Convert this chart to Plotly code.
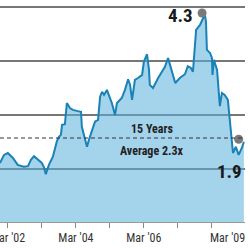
import plotly.graph_objects as go

# Price/book-style ratio, monthly-ish readings
dates = [
    "2001-12-07", "2002-01-19", "2002-03-01", "2002-04-25", "2002-06-15", "2002-08-19",
    "2002-10-04", "2002-11-04", "2002-12-07", "2003-01-19", "2003-03-01", "2003-03-22",
    "2003-04-13", "2003-05-16", "2003-06-28", "2003-08-10", "2003-09-01", "2003-09-22",
    "2003-10-04", "2003-11-04", "2003-11-25", "2003-12-28", "2004-01-28", "2004-03-22",
    "2004-04-25", "2004-05-04", "2004-06-07", "2004-06-28", "2004-07-19", "2004-08-22",
    "2004-09-22", "2004-10-25", "2004-11-16", "2004-12-07", "2004-12-28", "2005-01-28",
    "2005-02-22", "2005-03-22", "2005-04-25", "2005-05-16", "2005-07-07", "2005-08-10",
    "2005-09-13", "2005-10-04", "2005-10-25", "2005-11-25", "2005-12-28", "2006-02-10",
    "2006-03-01", "2006-04-04", "2006-04-25", "2006-05-04", "2006-06-07", "2006-08-01",
    "2006-10-13", "2006-11-16", "2006-12-07", "2007-02-01", "2007-03-22", "2007-05-16",
    "2007-06-16", "2007-07-19", "2007-08-10", "2007-09-01", "2007-09-13", "2007-10-25",
    "2007-11-25", "2007-12-16", "2007-12-28", "2008-01-07", "2008-02-10", "2008-03-01",
    "2008-03-07", "2008-03-22", "2008-04-25", "2008-05-04", "2008-05-25", "2008-06-16",
    "2008-07-16", "2008-08-19", "2008-09-10", "2008-10-01", "2008-10-13", "2008-11-13",
    "2008-12-13", "2009-01-16", "2009-02-07",
]
values = [
    1.90, 2.03, 2.06, 1.98, 1.87, 1.84,
    1.85, 1.95, 2.01, 1.96, 1.90, 1.84,
    1.72, 1.87, 2.00, 2.25, 2.32, 2.35,
    2.51, 2.52, 2.86, 2.78, 2.75, 2.73,
    2.72, 2.48, 2.27, 2.16, 2.27, 2.43,
    2.56, 2.59, 2.96, 3.04, 2.99, 3.07,
    2.96, 2.86, 2.67, 2.86, 2.94, 3.07,
    3.24, 3.15, 2.91, 3.23, 3.26, 3.31,
    3.52, 3.64, 3.39, 3.15, 3.10, 3.26,
    3.44, 3.58, 3.47, 3.18, 3.26, 3.32,
    3.45, 3.42, 3.36, 3.76, 4.03, 4.11,
    4.20, 4.28, 4.16, 3.71, 3.66, 3.58,
    3.31, 3.55, 3.39, 3.18, 2.81, 3.02,
    2.99, 2.91, 2.56, 2.22, 2.06, 2.16,
    2.03, 2.14, 2.24,
]

highlight_dates = ["2007-11-16", "2008-12-13"]
highlight_values = [4.30, 2.28]
highlight_labels = ["4.3", "1.9"]

average_value = 2.3
average_labels = ["15 Years", "Average 2.3x"]

tick_dates = ["2002-03-01", "2003-03-01", "2004-03-01", "2005-03-01",
              "2006-03-01", "2007-03-01", "2008-03-01"]
tick_labels = ["Mar '02", "", "Mar '04", "", "Mar '06", "", ""]
end_label = "Mar '09"

FONT = "Roboto Condensed, Liberation Sans Narrow, Lato, sans-serif"
TICKFONT = dict(family=FONT, size=12, color="#333")

fig = go.Figure()
fig.add_trace(go.Scatter(
    x=dates, y=values, mode="lines",
    line=dict(color="rgb(25,130,182)", width=2),
    fill="tozeroy", fillcolor="rgba(90,175,220,0.55)",
    hoverinfo="skip", showlegend=False,
))
fig.add_trace(go.Scatter(
    x=highlight_dates, y=highlight_values, mode="markers",
    marker=dict(color="#7a7a7a", size=9),
    hoverinfo="skip", showlegend=False,
))

fig.add_hline(y=average_value, line=dict(color="#333333", width=1.2, dash="4px,3px"))

fig.add_annotation(x=highlight_dates[0], y=highlight_values[0], text=highlight_labels[0],
                   showarrow=False, xanchor="right", yanchor="middle", xshift=-7, yshift=-2,
                   font=dict(family=FONT, size=19, color="#1a1a1a", weight="bold"))
fig.add_annotation(x=1, xref="paper", y=highlight_values[1], text=highlight_labels[1],
                   showarrow=False, xanchor="right", yanchor="middle", xshift=-1, yshift=-32,
                   font=dict(family=FONT, size=19, color="#1a1a1a", weight="bold"))
fig.add_annotation(x=0.62, xref="paper", y=average_value, text=average_labels[0],
                   showarrow=False, xanchor="center", yanchor="bottom", yshift=0,
                   font=dict(family=FONT, size=12, color="#222", weight="bold"))
fig.add_annotation(x=0.62, xref="paper", y=average_value, text=average_labels[1],
                   showarrow=False, xanchor="center", yanchor="top", yshift=-4,
                   font=dict(family=FONT, size=12, color="#222", weight="bold"))
# first tick label: centred on its tick and clipped by the page edge, as in the original
fig.add_annotation(x=tick_dates[0], y=0, yref="paper", text=tick_labels[0],
                   showarrow=False, xanchor="center", yanchor="top", yshift=-7,
                   font=TICKFONT)
fig.add_annotation(x=1, xref="paper", y=0, yref="paper", text=end_label,
                   showarrow=False, xanchor="right", yanchor="top", xshift=2, yshift=-7,
                   font=TICKFONT)

fig.update_layout(
    width=250, height=250,
    margin=dict(l=0, r=5, t=0, b=28),
    paper_bgcolor="white", plot_bgcolor="white",
    xaxis=dict(
        type="date", range=["2001-12-07", "2009-02-19"],
        tickvals=tick_dates, ticktext=[""] + tick_labels[1:],
        ticks="outside", ticklen=5, tickcolor="#888", tickwidth=1,
        showgrid=False, showline=True, linecolor="#999", linewidth=1,
        tickfont=TICKFONT, zeroline=False,
    ),
    yaxis=dict(
        range=[0.956, 4.508], showticklabels=False,
        tick0=1.804, dtick=0.864,
        showgrid=True, gridcolor="#777777", gridwidth=1.5, zeroline=False,
    ),
)

fig.write_html("out.html")
